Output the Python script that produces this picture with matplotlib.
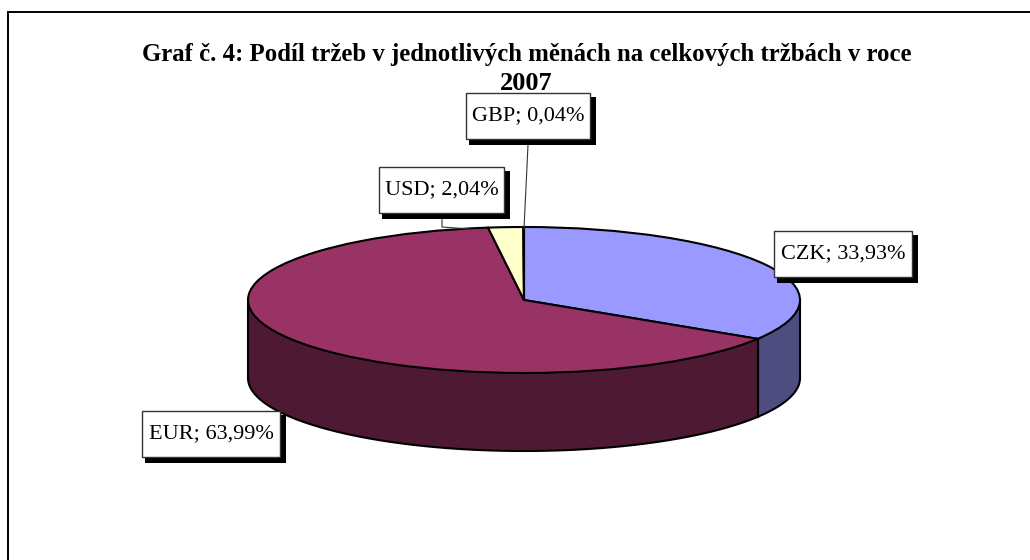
import numpy as np
import matplotlib
matplotlib.use("Agg")
import matplotlib.pyplot as plt
from matplotlib.patches import Rectangle

labels = ["CZK", "EUR", "USD", "GBP"]
shares = [33.93, 63.99, 2.04, 0.04]
value_texts = ["33,93%", "63,99%", "2,04%", "0,04%"]
top_colors = ["#9999FF", "#993366", "#FFFFCC", "#CCFFFF"]
side_colors = ["#4D4D80", "#4D1933", "#808066", "#668080"]
title_lines = ["Graf č. 4: Podíl tržeb v jednotlivých měnách na celkových tržbách v roce", "2007"]

W, H = 1030, 560
CX, CY, RX, RY, DEPTH = 524, 300, 276, 73, 78

plt.rcParams["font.family"] = ["Liberation Serif", "DejaVu Serif"]
fig = plt.figure(figsize=(W / 100, H / 100), dpi=100, facecolor="white")

# page-pixel overlay
bg = fig.add_axes([0, 0, 1, 1])
bg.set_xlim(0, W)
bg.set_ylim(H, 0)
bg.axis("off")
# frame: only the top and left edges fall inside the picture
bg.plot([W, 8, 8], [11.5, 11.5, H], color="black", lw=1.4, zorder=0, solid_joinstyle="miter")

# side walls: only front half of the rim (screen-lower half)
fr = np.array(shares) / sum(shares)
edges = np.concatenate([[0], np.cumsum(fr)]) * 2 * np.pi
for a0, a1, c in zip(edges[:-1], edges[1:], side_colors):
    lo, hi = max(a0, np.pi / 2), min(a1, 3 * np.pi / 2)
    if hi <= lo:
        continue
    t = np.linspace(lo, hi, 120)
    x = CX + RX * np.sin(t)
    y = CY - RY * np.cos(t)
    bg.fill_between(x, y, y + DEPTH, fc=c, ec="none", zorder=1)
    bg.plot(x, y + DEPTH, color="black", lw=1.5, zorder=2)
    bg.plot([x[0], x[0]], [y[0], y[0] + DEPTH], color="black", lw=1.5, zorder=2)
    bg.plot([x[-1], x[-1]], [y[-1], y[-1] + DEPTH], color="black", lw=1.5, zorder=2)

# top face: a real pie squashed into an ellipse-shaped axes
pad = 1.02
pie_ax = fig.add_axes([(CX - RX * pad) / W, 1 - (CY + RY * pad) / H,
                       2 * RX * pad / W, 2 * RY * pad / H], zorder=3)
pie_ax.pie(shares, colors=top_colors, startangle=90, counterclock=False,
           wedgeprops=dict(edgecolor="black", linewidth=1.5))
pie_ax.set_aspect("auto")
pie_ax.set_xlim(-pad, pad)
pie_ax.set_ylim(-pad, pad)
pie_ax.patch.set_alpha(0)

# overlay for labels
ov = fig.add_axes([0, 0, 1, 1], zorder=5)
ov.set_xlim(0, W)
ov.set_ylim(H, 0)
ov.axis("off")

ov.plot([442, 442, 470], [219, 227, 229], color="#333333", lw=0.8, zorder=1)
ov.plot([528, 524], [145, 229], color="#333333", lw=0.8, zorder=1)

boxes = [(774, 231, 138), (142, 411, 138), (379, 167, 125), (466, 93, 124)]
for lab, val, (bx, by, bw) in zip(labels, value_texts, boxes):
    bh = 46
    ov.add_patch(Rectangle((bx + 3, by + 4), bw + 3, bh + 2, fc="black", ec="none", zorder=2))
    ov.add_patch(Rectangle((bx, by), bw, bh, fc="white", ec="#333333", lw=1, zorder=3))
    ov.text(bx + bw / 2, by + bh / 2 - 0.5, f"{lab}; {val}", ha="center", va="center",
            fontsize=16, color="black", zorder=4)

ov.text(527, 54, title_lines[0], ha="center", va="center", fontsize=17.8, fontweight="bold")
ov.text(526, 83, title_lines[1], ha="center", va="center", fontsize=19, fontweight="bold")

fig.savefig("out.png", dpi=100)
